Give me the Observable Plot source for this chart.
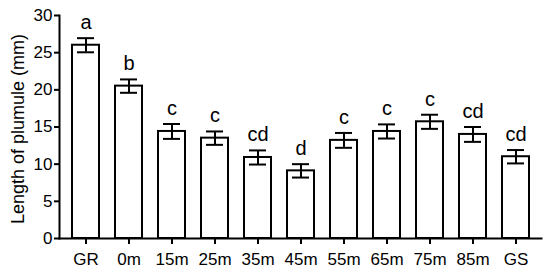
<!DOCTYPE html>
<html>
<head>
<meta charset="utf-8">
<script src="https://cdn.jsdelivr.net/npm/d3@7"></script>
<script src="https://cdn.jsdelivr.net/npm/@observablehq/plot@0.6"></script>
<style>
  body { margin: 0; background: #fff; }
  svg { font-family: "Liberation Sans", Arial, sans-serif; }
</style>
</head>
<body>
<div id="chart"></div>
<script>
const categories = ["GR", "0m", "15m", "25m", "35m", "45m", "55m", "65m", "75m", "85m", "GS"];
const means = [26.0, 20.5, 14.4, 13.5, 10.9, 9.1, 13.2, 14.4, 15.7, 14.0, 11.0];
const errors = [0.95, 0.9, 1.0, 0.9, 0.95, 0.9, 1.0, 0.95, 0.95, 1.0, 0.9];
const letters = ["a", "b", "c", "c", "cd", "d", "c", "c", "c", "cd", "cd"];
const yTicks = [0, 5, 10, 15, 20, 25, 30];
const yLabel = "Length of plumule (mm)";

const data = categories.map((c, i) => ({
  cat: c, mean: means[i], lo: means[i] - errors[i], hi: means[i] + errors[i], letter: letters[i]
}));

const chart = Plot.plot({
  width: 550,
  height: 277,
  marginLeft: 59,
  marginRight: 9,
  marginTop: 15,
  marginBottom: 39,
  style: { fontFamily: "'Liberation Sans', Arial, sans-serif", color: "#000", background: "#fff" },
  x: { type: "band", domain: categories, padding: 0 },
  y: { domain: [0, 30] },
  marks: [
    Plot.barY(data, { x: "cat", y: "mean", fill: "white", stroke: "black", strokeWidth: 2, insetLeft: 8, insetRight: 8 }),
    Plot.ruleX(data, { x: "cat", y1: "lo", y2: "hi", stroke: "black", strokeWidth: 2 }),
    Plot.tickY(data, { x: "cat", y: "lo", stroke: "black", strokeWidth: 2, insetLeft: 13, insetRight: 13 }),
    Plot.tickY(data, { x: "cat", y: "hi", stroke: "black", strokeWidth: 2, insetLeft: 13, insetRight: 13 }),
    Plot.text(data, { x: "cat", y: "hi", text: "letter", dy: -9, lineAnchor: "bottom", fontSize: 20, fill: "black" }),
    Plot.frame({ anchor: "left", stroke: "black", strokeWidth: 2 }),
    Plot.frame({ anchor: "bottom", stroke: "black", strokeWidth: 2 }),
    Plot.axisY({ ticks: yTicks, tickSize: 5, tickPadding: 2, fontSize: 17, strokeWidth: 2, label: null, tickFormat: d => String(d) }),
    Plot.axisX({ tickSize: 6, tickPadding: 8, fontSize: 17, strokeWidth: 2, label: null }),
    Plot.text([yLabel], { frameAnchor: "left", rotate: -90, dx: -36, dy: 2, lineAnchor: "bottom", textAnchor: "middle", fontSize: 18, fill: "black" })
  ]
});
document.getElementById("chart").appendChild(chart);
</script>
</body>
</html>
